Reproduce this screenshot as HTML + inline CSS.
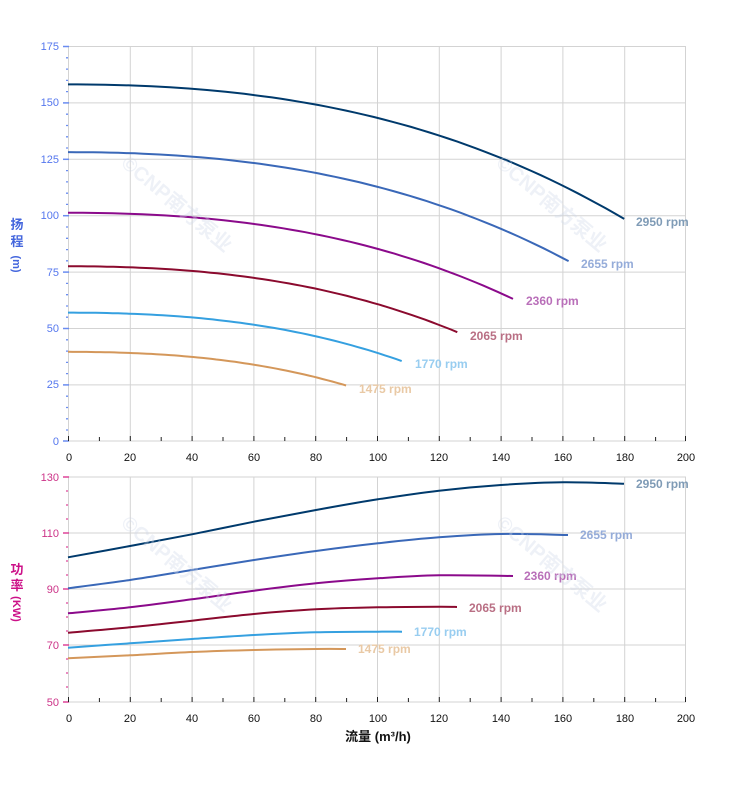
<!DOCTYPE html><html><head><meta charset="utf-8"><style>body{margin:0;background:#fff}svg{display:block}text{font-family:"Liberation Sans","Noto Sans CJK SC",sans-serif}</style></head><body>
<svg id="s" width="752" height="797" xmlns="http://www.w3.org/2000/svg">
<g stroke="#d3d3d3" stroke-width="1">
<line x1="68" y1="46.5" x2="686" y2="46.5"/><line x1="68" y1="102.9" x2="686" y2="102.9"/><line x1="68" y1="159.3" x2="686" y2="159.3"/><line x1="68" y1="215.7" x2="686" y2="215.7"/><line x1="68" y1="272.1" x2="686" y2="272.1"/><line x1="68" y1="328.5" x2="686" y2="328.5"/><line x1="68" y1="384.9" x2="686" y2="384.9"/><line x1="68" y1="441" x2="686" y2="441"/>
<line x1="68" y1="477" x2="686" y2="477"/><line x1="68" y1="533" x2="686" y2="533"/><line x1="68" y1="589" x2="686" y2="589"/><line x1="68" y1="645" x2="686" y2="645"/><line x1="68" y1="702" x2="686" y2="702"/>
</g>
<g stroke="#d3d3d3">
<line x1="68.5" y1="46" x2="68.5" y2="441"/><line x1="130.3" y1="46" x2="130.3" y2="441"/><line x1="192.1" y1="46" x2="192.1" y2="441"/><line x1="253.9" y1="46" x2="253.9" y2="441"/><line x1="315.7" y1="46" x2="315.7" y2="441"/><line x1="377.5" y1="46" x2="377.5" y2="441"/><line x1="439.3" y1="46" x2="439.3" y2="441"/><line x1="501.1" y1="46" x2="501.1" y2="441"/><line x1="562.9" y1="46" x2="562.9" y2="441"/><line x1="624.7" y1="46" x2="624.7" y2="441"/><line x1="685.5" y1="46" x2="685.5" y2="441"/>
<line x1="68.5" y1="477" x2="68.5" y2="702"/><line x1="130.3" y1="477" x2="130.3" y2="702"/><line x1="192.1" y1="477" x2="192.1" y2="702"/><line x1="253.9" y1="477" x2="253.9" y2="702"/><line x1="315.7" y1="477" x2="315.7" y2="702"/><line x1="377.5" y1="477" x2="377.5" y2="702"/><line x1="439.3" y1="477" x2="439.3" y2="702"/><line x1="501.1" y1="477" x2="501.1" y2="702"/><line x1="562.9" y1="477" x2="562.9" y2="702"/><line x1="624.7" y1="477" x2="624.7" y2="702"/><line x1="685.5" y1="477" x2="685.5" y2="702"/>
</g>
<g stroke="#6a8cf0" stroke-width="1.5">
<line x1="63" y1="46.5" x2="69" y2="46.5"/><line x1="63" y1="102.9" x2="69" y2="102.9"/><line x1="63" y1="159.3" x2="69" y2="159.3"/><line x1="63" y1="215.7" x2="69" y2="215.7"/><line x1="63" y1="272.1" x2="69" y2="272.1"/><line x1="63" y1="328.5" x2="69" y2="328.5"/><line x1="63" y1="384.9" x2="69" y2="384.9"/><line x1="63" y1="441" x2="69" y2="441"/>
</g>
<g stroke="#6a8cf0" stroke-width="1.3">
<path d="M66 57.8h2M66 69.1h2M66 80.4h2M66 91.6h2M66 114.2h2M66 125.5h2M66 136.8h2M66 148h2M66 170.6h2M66 181.9h2M66 193.2h2M66 204.4h2M66 227h2M66 238.3h2M66 249.6h2M66 260.8h2M66 283.4h2M66 294.7h2M66 306h2M66 317.2h2M66 339.8h2M66 351.1h2M66 362.4h2M66 373.6h2M66 396.2h2M66 407.5h2M66 418.8h2M66 430h2"/>
</g>
<g stroke="#dd4499" stroke-width="1.5">
<line x1="63" y1="477" x2="69" y2="477"/><line x1="63" y1="533" x2="69" y2="533"/><line x1="63" y1="589" x2="69" y2="589"/><line x1="63" y1="645" x2="69" y2="645"/><line x1="63" y1="702" x2="69" y2="702"/>
</g>
<g stroke="#dd4499" stroke-width="1.3">
<path d="M66 491h2M66 505h2M66 519h2M66 547h2M66 561h2M66 575h2M66 603h2M66 617h2M66 631h2M66 659h2M66 673h2M66 687h2"/>
</g>
<g stroke="#222">
<path d="M99.4 437v4M161.2 437v4M223 437v4M284.8 437v4M346.6 437v4M408.4 437v4M470.2 437v4M532 437v4M593.8 437v4M655.6 437v4M68.5 436v5M130.3 436v5M192.1 436v5M253.9 436v5M315.7 436v5M377.5 436v5M439.3 436v5M501.1 436v5M562.9 436v5M624.7 436v5M685.5 436v5"/>
<path d="M99.4 698v4M161.2 698v4M223 698v4M284.8 698v4M346.6 698v4M408.4 698v4M470.2 698v4M532 698v4M593.8 698v4M655.6 698v4M68.5 697v5M130.3 697v5M192.1 697v5M253.9 697v5M315.7 697v5M377.5 697v5M439.3 697v5M501.1 697v5M562.9 697v5M624.7 697v5M685.5 697v5"/>
</g>
<g font-size="11" fill="#5577ee" text-anchor="end">
<text x="59" y="50">175</text><text x="59" y="106">150</text><text x="59" y="163">125</text><text x="59" y="219">100</text><text x="59" y="276">75</text><text x="59" y="332">50</text><text x="59" y="388">25</text><text x="59" y="445">0</text>
</g>
<g font-size="11" fill="#cc3388" text-anchor="end">
<text x="59" y="481">130</text><text x="59" y="537">110</text><text x="59" y="593">90</text><text x="59" y="649">70</text><text x="59" y="706">50</text>
</g>
<g font-size="11" fill="#111" text-anchor="middle">
<text x="69" y="461">0</text><text x="130" y="461">20</text><text x="192" y="461">40</text><text x="254" y="461">60</text><text x="316" y="461">80</text><text x="378" y="461">100</text><text x="439" y="461">120</text><text x="501" y="461">140</text><text x="563" y="461">160</text><text x="625" y="461">180</text><text x="686" y="461">200</text>
<text x="69" y="722">0</text><text x="130" y="722">20</text><text x="192" y="722">40</text><text x="254" y="722">60</text><text x="316" y="722">80</text><text x="378" y="722">100</text><text x="439" y="722">120</text><text x="501" y="722">140</text><text x="563" y="722">160</text><text x="625" y="722">180</text><text x="686" y="722">200</text>
</g>
<g font-size="13" fill="#4466dd" font-weight="bold" text-anchor="middle"><text x="17" y="229">扬</text><text x="17" y="246">程</text><text x="17" y="268" font-size="11" transform="rotate(90 17 264)">(m)</text></g>
<g font-size="13" fill="#cc1188" font-weight="bold" text-anchor="middle"><text x="17" y="574">功</text><text x="17" y="590">率</text><text x="17" y="613" font-size="11" transform="rotate(90 17 609)">(KW)</text></g>
<text x="378" y="741" font-size="13" font-weight="bold" text-anchor="middle" fill="#111">流量 (m³/h)</text>
<g id="curves" fill="none" stroke-width="2"></g>
<g font-size="12" font-weight="bold">
<text x="636" y="226" fill="#7f9bb6">2950 rpm</text><text x="581" y="268" fill="#95acd9">2655 rpm</text><text x="526" y="305" fill="#b96fb9">2360 rpm</text><text x="470" y="340" fill="#b96f84">2065 rpm</text><text x="415" y="368" fill="#98cdf0">1770 rpm</text><text x="359" y="393" fill="#e9c9a5">1475 rpm</text>
<text x="636" y="488" fill="#7f9bb6">2950 rpm</text><text x="580" y="539" fill="#95acd9">2655 rpm</text><text x="524" y="580" fill="#b96fb9">2360 rpm</text><text x="469" y="612" fill="#b96f84">2065 rpm</text><text x="414" y="636" fill="#98cdf0">1770 rpm</text><text x="358" y="653" fill="#e9c9a5">1475 rpm</text>
</g>
<g font-size="20" font-weight="bold" fill="#cfd8e8" opacity="0.35">
<text x="120" y="165" transform="rotate(40 120 165)">©CNP南方泵业</text><text x="495" y="165" transform="rotate(40 495 165)">©CNP南方泵业</text>
<text x="120" y="525" transform="rotate(40 120 525)">©CNP南方泵业</text><text x="495" y="525" transform="rotate(40 495 525)">©CNP南方泵业</text>
</g>
</svg>
<script>
var g=document.getElementById('curves'),ns='http://www.w3.org/2000/svg';
function add(d,c){var p=document.createElementNS(ns,'path');p.setAttribute('d',d);p.setAttribute('stroke',c);g.appendChild(p);}
function smooth(pts){var d='M'+pts[0][0]+' '+pts[0][1];for(var i=0;i<pts.length-1;i++){var p0=pts[i-1]||pts[i],p1=pts[i],p2=pts[i+1],p3=pts[i+2]||p2;d+='C'+(p1[0]+(p2[0]-p0[0])/6)+' '+(p1[1]+(p2[1]-p0[1])/6)+' '+(p2[0]-(p3[0]-p1[0])/6)+' '+(p2[1]-(p3[1]-p1[1])/6)+' '+p2[0]+' '+p2[1];}return d;}
var cols=['#003a6c','#3a68b8','#8b0a8b','#8b0a2e','#35a0e0','#d4975a'],rs=[1,.9,.8,.7,.6,.5];
rs.forEach(function(r,k){var pts=[];for(var i=0;i<=60;i++){var Q=180*r*i/60,q=Q/r;var H=r*r*(158-0.00103*q*q-4.5e-6*q*q*q);pts.push([68+3.09*Q,441-2.257*H]);}add('M'+pts.map(function(p){return p[0].toFixed(1)+' '+p[1].toFixed(1)}).join('L'),cols[k]);});
var P=[[[68,557.3],[130,546],[192,534.3],[254,521.7],[316,510],[378,499.3],[439,490.7],[501,485],[563,482.3],[624,483.7]],
[[68,588.3],[130,580],[192,570],[254,560],[316,551],[378,543.3],[439,537.3],[501,534],[568,535]],
[[68,613.3],[130,607.3],[192,599.3],[254,590.7],[316,583.3],[378,578.3],[439,575.3],[513,576]],
[[68,632.7],[130,627.3],[192,620.7],[254,614],[316,609.3],[378,607.3],[439,606.7],[457,607]],
[[68,647.7],[130,643.3],[192,639],[254,635],[316,632.3],[378,631.7],[402,631.7]],
[[68,658.3],[130,655.3],[192,652],[254,650],[316,649],[346,649]]];
P.forEach(function(p,k){add(smooth(p),cols[k]);});
</script>
</body></html>
